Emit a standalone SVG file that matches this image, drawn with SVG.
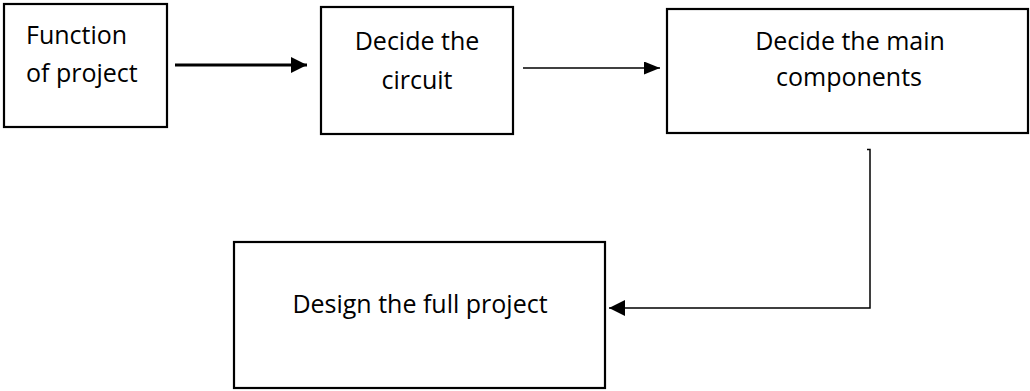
<svg xmlns="http://www.w3.org/2000/svg" width="1030" height="391" viewBox="0 0 1030 391">
  <style>
    .box { fill: #ffffff; stroke: #000000; stroke-width: 2.2; }
    .lbl { font-family: "Open Sans", "Liberation Sans", sans-serif; font-size: 25px; fill: #000000; }
    .mid { text-anchor: middle; }
    .conn { fill: none; stroke: #000000; }
  </style>
  <defs>
    <marker id="headL" markerUnits="userSpaceOnUse" markerWidth="18" markerHeight="18" refX="16" refY="8" orient="auto">
      <polygon points="0,0 16,8 0,16" fill="#000000"/>
    </marker>
    <marker id="headS" markerUnits="userSpaceOnUse" markerWidth="18" markerHeight="14" refX="16" refY="6.5" orient="auto">
      <polygon points="0,0 16,6.5 0,13" fill="#000000"/>
    </marker>
  </defs>

  <g id="connectors">
    <path class="conn" d="M175,65 H307" stroke-width="3.2" marker-end="url(#headL)"/>
    <path class="conn" d="M523,68 H660" stroke-width="1.5" marker-end="url(#headS)"/>
    <path class="conn" d="M867,149.5 H870 V308 H609" stroke-width="1.5" marker-end="url(#headL)"/>
  </g>

  <g id="node-function">
    <rect class="box" x="4" y="4" width="163" height="123"/>
    <text class="lbl" x="26" y="44">Function</text>
    <text class="lbl" x="26" y="82">of project</text>
  </g>

  <g id="node-circuit">
    <rect class="box" x="321" y="7" width="192" height="127"/>
    <text class="lbl mid" x="417" y="50">Decide the</text>
    <text class="lbl mid" x="417" y="89">circuit</text>
  </g>

  <g id="node-components">
    <rect class="box" x="667" y="9" width="361" height="124"/>
    <text class="lbl mid" x="850" y="50">Decide the main</text>
    <text class="lbl mid" x="849" y="86">components</text>
  </g>

  <g id="node-design">
    <rect class="box" x="234" y="242" width="371" height="146"/>
    <text class="lbl mid" x="420" y="313">Design the full project</text>
  </g>
</svg>
